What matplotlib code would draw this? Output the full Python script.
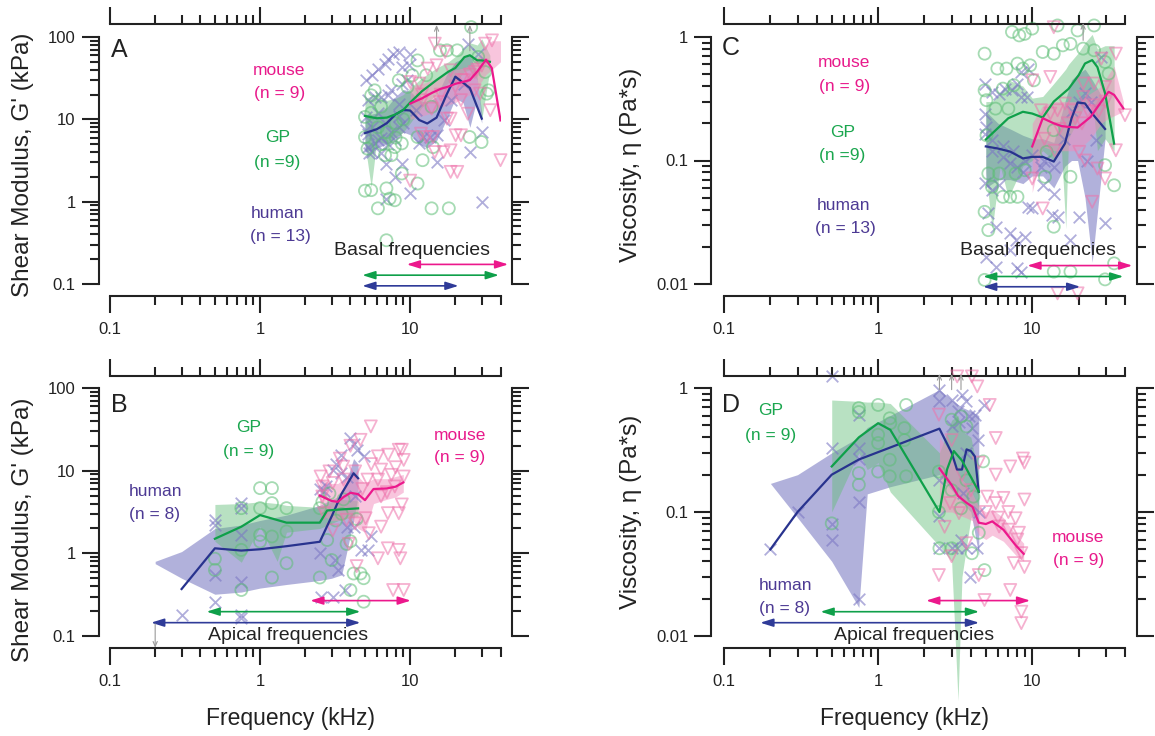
import numpy as np
import matplotlib
matplotlib.use("Agg")
from matplotlib import pyplot as plt
from matplotlib.ticker import FixedLocator, LogLocator, NullFormatter

plt.rcParams['font.family'] = ['Liberation Sans', 'DejaVu Sans']

# ---------------- panel A : shear modulus, basal turn (kHz, kPa)
a_hum_f = [5, 6, 7, 8, 9, 10, 11.5, 13, 15, 17.5, 20, 25, 30]
a_hum_v = [6.8, 7.6, 9, 11.5, 13, 12.8, 9.8, 8.9, 10.5, 20, 33, 24, 10.2]
a_hum_band_f = [5, 6, 7, 8, 9, 10, 11.5, 13, 15, 17.5, 20, 22.5, 25, 27.5, 30]
a_hum_lo = [4, 4.5, 5, 6, 7, 6.5, 5, 4.5, 5.5, 10, 18, 16, 8, 16, 9]
a_hum_hi = [11, 12, 14, 19, 23, 22, 17, 16, 19, 35, 50, 55, 60, 40, 12]
a_gp_f = [5, 6, 7, 8, 9, 10, 12, 15, 18, 20, 23, 25, 28, 30, 34]
a_gp_v = [11, 10.3, 10.5, 11.5, 13, 16, 22, 30, 38, 42, 57, 60, 52, 52, 50]
a_gp_band_f = [5, 5.5, 6, 7, 8, 9, 10, 12, 15, 18, 20, 23, 25, 28, 30, 34]
a_gp_lo = [5, 1.5, 5.5, 5, 6, 7, 9, 14, 20, 28, 28, 38, 40, 30, 10, 40]
a_gp_hi = [18, 19, 20, 17, 18, 20, 24, 32, 42, 50, 58, 75, 85, 80, 95, 60]
a_mou_f = [10, 12, 14, 16, 18, 20, 22.5, 25, 28, 32, 35, 40]
a_mou_v = [15.5, 18, 21, 23.5, 25, 27, 28.5, 30, 38, 53, 42, 9.7]
a_mou_lo = [10, 11, 12, 14, 15, 16, 18, 20, 24, 35, 40, 50]
a_mou_hi = [25, 27, 30, 33, 36, 40, 42, 45, 55, 80, 90, 90]
a_hum_pts = [(5.05, 29.8), (5.6, 34.3), (6.1, 41.3), (6.8, 47.5), (7.1, 54.6), (7.7, 62.8),
             (8.4, 65.8), (8.8, 43.2), (10, 62.8), (9.8, 45.3), (5.2, 17.1), (5.8, 18.7),
             (6.4, 18.7), (7.1, 19.6), (7.5, 22.5), (5.05, 10.7), (5.2, 6.7), (5.2, 4.6),
             (5.3, 3.85), (5.8, 5.1), (6.1, 5.6), (6.4, 3.85), (6.9, 2.9), (7.9, 5.6),
             (8.4, 8.1), (8.8, 2.9), (7.9, 2.0), (6.9, 1.09), (10, 1.26), (8.8, 27.2),
             (9.6, 29.8), (10.9, 12.9), (12.1, 6.1), (13.5, 6.1), (15, 6.4), (15, 3.05),
             (16.7, 9.75), (18.6, 17.1), (23, 27.2), (24.9, 4.0), (29.9, 7.04), (29.9, 1.0),
             (24.2, 83), (28.4, 62.8), (11.5, 5.1), (8.4, 15.5), (5.05, 7.5), (5.6, 8),
             (6.1, 12), (6.8, 9), (7.5, 7), (8.4, 11), (9, 9), (5.6, 4), (6.4, 6), (7.1, 5)]
a_gp_pts = [(5.5, 19.6), (5.8, 22.5), (5, 10.7), (5, 6.1), (5.2, 4.4), (5.5, 1.38), (5, 1.36),
            (6.1, 0.83), (6.95, 1.45), (7.3, 1.09), (7.9, 1.04), (8.8, 2.2), (11.2, 1.66),
            (13.9, 0.83), (18.1, 0.83), (6.95, 0.34), (6.8, 3.67), (7.5, 3.67), (7.9, 4.6),
            (8.8, 5.1), (11.2, 6.1), (12.1, 3.19), (14.2, 4.6), (17.6, 68.9), (15.8, 68.9),
            (20.6, 68.9), (25.5, 132), (28.4, 57.2), (31.6, 37.6), (32.4, 20.5), (33.3, 22.5),
            (29.9, 5.3), (24.9, 6.1), (13.9, 14.2), (11.2, 52), (10.35, 34.3), (12.8, 34.3),
            (6.4, 14.2), (8.4, 29.8), (9.6, 24.7), (6.1, 8), (7, 7), (8, 9), (9, 10),
            (5.5, 12), (6.5, 5), (8, 6)]
a_mou_pts = [(14.6, 83), (17.1, 65.8), (13.1, 41.3), (15, 45.3), (18.6, 39.4), (10, 28.4),
             (11.5, 27.2), (12.1, 17.1), (15.8, 16.2), (17.6, 10.2), (18.6, 10.2), (11.8, 6.7),
             (12.8, 6.1), (14.2, 6.1), (10, 1.8), (16.7, 4.0), (18.6, 4.2), (20.1, 6.4),
             (21.8, 6.4), (18.6, 2.3), (20.6, 2.3), (14.6, 4.0), (23, 29.8), (26.9, 22.5),
             (29.2, 20.5), (34.2, 12.9), (40, 3.19), (35.1, 91), (31.6, 83), (26.9, 37.6),
             (21.8, 17.1), (24.2, 11.7), (13.9, 13.5), (20, 25), (22, 30), (25, 35), (28, 40),
             (30, 45), (16, 20), (12, 20)]
a_ranges = [(4.8, 21, 0.095), (4.8, 39, 0.128), (9.5, 45, 0.173)]   # human, GP, mouse
a_offscale = [(15, 80, 140), (25, 68, 140)]

# ---------------- panel C : viscosity, basal turn (kHz, Pa*s)
c_hum_f = [5, 6, 7.2, 8.7, 10, 11.7, 13.8, 16.3, 18, 19.7, 22, 24.5, 29.7]
c_hum_v = [0.13, 0.125, 0.118, 0.104, 0.107, 0.107, 0.098, 0.137, 0.22, 0.295, 0.29, 0.24, 0.18]
c_hum_lo = [0.06, 0.07, 0.07, 0.065, 0.075, 0.075, 0.06, 0.09, 0.1, 0.1, 0.05, 0.015, 0.15]
c_hum_hi = [0.25, 0.2, 0.18, 0.16, 0.15, 0.15, 0.14, 0.3, 0.45, 0.5, 0.55, 0.45, 0.3]
c_gp_f = [5, 7, 8.7, 10, 11.7, 13.8, 17.2, 20, 22, 24.5, 26.5, 29.7, 34]
c_gp_v = [0.148, 0.22, 0.248, 0.24, 0.223, 0.3, 0.38, 0.49, 0.61, 0.65, 0.57, 0.35, 0.137]
c_gp_band_f = [5, 5.5, 6.2, 7, 8.7, 10, 11.7, 13.8, 15.5, 16.5, 17.2, 20, 22, 24.5, 26.5, 29.7, 34]
c_gp_lo = [0.08, 0.028, 0.09, 0.05, 0.09, 0.1, 0.12, 0.1, 0.12, 0.028, 0.15, 0.22, 0.28, 0.32,
           0.12, 0.15, 0.12]
c_gp_hi = [0.3, 0.3, 0.35, 0.45, 0.4, 0.32, 0.33, 0.42, 0.5, 0.55, 0.6, 0.75, 0.9, 1.05, 0.8,
           0.85, 0.85]
c_mou_f = [10, 11.7, 13.8, 15.5, 17.2, 19.7, 23.9, 28.1, 31.3, 34, 39]
c_mou_v = [0.13, 0.22, 0.2, 0.19, 0.187, 0.185, 0.225, 0.3, 0.36, 0.34, 0.265]
c_mou_lo = [0.055, 0.13, 0.12, 0.12, 0.12, 0.12, 0.15, 0.2, 0.22, 0.23, 0.25]
c_mou_hi = [0.2, 0.28, 0.3, 0.3, 0.3, 0.3, 0.35, 0.4, 0.5, 0.58, 0.3]
c_hum_pts = [(4.91, 0.42), (5.48, 0.359), (6.1, 0.348), (6.63, 0.382), (7.39, 0.37), (8.02, 0.42),
             (8.47, 0.327), (9.19, 0.327), (8.47, 0.521), (9.45, 0.555), (4.91, 0.24),
             (5.05, 0.187), (4.91, 0.165), (5.48, 0.146), (6.45, 0.107), (7.19, 0.0946),
             (8.02, 0.0889), (8.7, 0.081), (4.91, 0.0652), (5.48, 0.0576), (6.1, 0.063),
             (5.19, 0.0373), (5.78, 0.0291), (7.19, 0.0257), (7.8, 0.0227), (8.94, 0.0242),
             (7.19, 0.0188), (8.02, 0.0134), (9.45, 0.0422), (10, 0.0409), (11.7, 0.063),
             (13.8, 0.054), (13.5, 0.0361), (14.6, 0.035), (17.7, 0.0227), (20.2, 0.035),
             (29.7, 0.031), (22.6, 0.1), (25.9, 0.146), (28.1, 0.69), (5.78, 0.0138),
             (5.05, 0.0166), (8.47, 0.0126), (13.8, 0.0889), (11.4, 0.0889), (5.5, 0.12),
             (6.5, 0.13), (7.5, 0.12), (9, 0.1), (10, 0.11), (12, 0.1), (16, 0.15), (18, 0.25),
             (20, 0.3), (22, 0.35), (24, 0.3)]
c_gp_pts = [(4.91, 0.733), (5.94, 0.555), (5.05, 0.308), (4.91, 0.37), (6.81, 0.555), (8.7, 0.555),
            (9.7, 0.59), (7.39, 1.1), (8.24, 1.03), (8.94, 1.06), (10, 1.17), (14.6, 1.24),
            (19.7, 1.13), (25.2, 1.24), (17.7, 0.88), (15.8, 0.856), (13.8, 0.733), (11.7, 0.756),
            (10.25, 0.446), (8.02, 0.609), (5.19, 0.0785), (6.1, 0.0785), (5.48, 0.0612),
            (6.45, 0.0508), (7.19, 0.0508), (8.02, 0.0508), (4.91, 0.0384), (5.19, 0.0273),
            (13.8, 0.0291), (12.1, 0.0738), (12.4, 0.1175), (13.8, 0.176), (17.7, 0.0738),
            (29.7, 0.0917), (34, 0.063), (13.8, 0.0126), (17.7, 0.0126), (29.7, 0.0109),
            (34, 0.0147), (4.91, 0.0108), (7.8, 0.0785), (8.94, 0.0835), (21.4, 0.805),
            (25.2, 0.78), (29.7, 0.628), (31.3, 0.505), (5.05, 0.16), (5.78, 0.263), (7.0, 0.263),
            (6.45, 0.382), (7.59, 0.407)]
c_mou_pts = [(13.8, 1.2), (10, 0.446), (13.1, 0.475), (11.4, 0.255), (13.1, 0.24), (14.6, 0.255),
             (16.3, 0.289), (18.2, 0.255), (21.4, 0.327), (21.4, 0.42), (25.2, 0.42), (29.7, 0.394),
             (34.9, 0.733), (28.1, 0.668), (40, 0.233), (34.9, 0.121), (29.7, 0.0715),
             (26.5, 0.0861), (24.5, 0.0463), (20.2, 0.1175), (22, 0.1), (11.7, 0.0409),
             (10, 0.0715), (14.6, 0.0084), (19.7, 0.0084), (15, 0.18), (17, 0.2), (19, 0.22),
             (21, 0.2), (23, 0.25), (25, 0.28), (27, 0.25), (30, 0.3), (12, 0.15), (14, 0.12)]
c_ranges = [(4.8, 20.5, 0.0095), (4.8, 39, 0.0115), (9.3, 44.6, 0.0141)]
c_offscale = [(21.4, 0.94, 1.3)]

# ---------------- panel B : shear modulus, apical turn
b_hum_f = [0.3, 0.5, 0.75, 1, 1.5, 2.5, 3, 3.5, 4.2, 4.5]
b_hum_v = [0.37, 1.15, 1.08, 1.12, 1.22, 1.38, 2.8, 5.3, 9.3, 8.1]
b_hum_band_f = [0.2, 0.3, 0.5, 0.75, 1, 1.5, 2.5, 3, 3.5, 4.2, 4.5]
b_hum_lo = [0.75, 0.5, 0.32, 0.34, 0.38, 0.42, 0.47, 0.5, 0.55, 2.5, 5]
b_hum_hi = [0.8, 1.05, 2.0, 2.2, 2.5, 2.9, 3.8, 4.5, 5, 14, 12]
b_gp_f = [0.5, 0.75, 1, 1.5, 2.5, 2.8, 3.5, 4.5]
b_gp_v = [1.5, 2.1, 2.9, 2.35, 2.35, 3.3, 3.4, 3.5]
b_gp_band_f = [0.5, 0.75, 1, 1.3, 1.5, 2.5, 3, 3.5, 4.5]
b_gp_lo = [1.4, 0.78, 2.1, 0.8, 1.8, 2.0, 2.3, 2.6, 2.8]
b_gp_hi = [3.9, 4.0, 4.2, 4.0, 3.8, 3.6, 4.2, 4.5, 4.3]
b_mou_f = [2.5, 3, 3.3, 3.6, 4, 4.5, 5, 5.7, 7, 8, 9]
b_mou_v = [5.0, 4.3, 4.2, 4.8, 5.4, 5.2, 4.4, 6.0, 6.1, 6.4, 7.2]
b_mou_lo = [3, 2.5, 2.5, 2.5, 2.8, 2, 1.8, 4, 4.5, 4.8, 5.5]
b_mou_hi = [8, 7, 7, 8, 9, 8.5, 7, 8, 8, 8.5, 9]
b_hum_pts = [(0.5, 2.54), (0.5, 2.21), (0.5, 0.55), (0.5, 0.26), (0.75, 4.05), (0.75, 3.5),
             (0.75, 1.67), (0.75, 0.455), (0.75, 0.18), (0.75, 0.164), (0.3, 0.18), (2.5, 1.0),
             (3.05, 10.3), (3.48, 15.6), (4, 24.8), (4.4, 17.9), (4.9, 14.9), (2.67, 5.6),
             (3.77, 2.1), (3.14, 0.83), (3.3, 0.63), (4.67, 1.1), (5.2, 1.1), (5.5, 1.6),
             (3.67, 0.36), (3.05, 0.3), (2.53, 0.3), (4.2, 2.1), (3.48, 9.34), (3.77, 8.5),
             (2.74, 6.44), (4.3, 4.87), (4.2, 21), (3.2, 12), (2.5, 6)]
b_gp_pts = [(1, 6.15), (1.2, 6.15), (0.75, 3.52), (1, 3.52), (1.2, 4.05), (1.5, 3.52), (1.5, 1.84),
            (1.2, 1.6), (1, 1.67), (1, 1.39), (0.75, 1.1), (0.5, 0.86), (0.5, 0.63), (0.75, 0.36),
            (1.2, 0.51), (1.5, 0.76), (2.5, 0.51), (2.5, 3.52), (2.8, 1.45), (3, 0.83),
            (3.77, 1.3), (4, 0.36), (4.2, 0.57), (4.67, 0.57), (4.9, 0.5), (4.9, 0.26), (4, 1.4),
            (2.9, 5.3), (3.5, 3), (3.2, 2.5), (4.4, 2.6), (3.6, 4.5), (2.6, 4.2)]
b_mou_pts = [(5.47, 34.3), (2.53, 8.5), (2.9, 9.8), (3.58, 11.2), (4.3, 9.8), (4.67, 23.6),
             (6.1, 14.9), (7.14, 15.6), (8.4, 17.9), (8.8, 17.9), (9.06, 13.5), (9.06, 8.5),
             (7.9, 6.44), (6.4, 4.9), (6.1, 7.8), (8.8, 3.9), (8.4, 3.06), (7.1, 3.06), (6.4, 2.1),
             (5.05, 2.66), (4.3, 2.3), (6.1, 0.87), (7.1, 1.15), (8.4, 1.1), (8.6, 0.87),
             (7.7, 0.36), (9.06, 0.36), (4.4, 0.7), (3.9, 1.3), (3.05, 1.9), (2.6, 4.87),
             (2.67, 3.06), (3.77, 2.54), (5.3, 1.75), (7.5, 8.9), (6.4, 10.3), (5.2, 7.8),
             (3.6, 7.8), (3.05, 7.1), (2.6, 6.44), (4, 20), (3.4, 14), (5.5, 12), (4.8, 6),
             (7, 5.5), (8, 11)]
b_ranges = [(0.188, 4.66, 0.145), (0.44, 4.66, 0.197), (2.16, 10.1, 0.268)]
b_offscale = [(0.2, 0.14, 0.072)]

# ---------------- panel D : viscosity, apical turn
d_hum_f = [0.2, 0.3, 0.5, 0.75, 2.5, 3, 3.25, 3.5, 3.75, 4, 4.25, 4.5]
d_hum_v = [0.05, 0.1, 0.2, 0.265, 0.47, 0.3, 0.22, 0.22, 0.32, 0.31, 0.28, 0.145]
d_hum_band_f = [0.2, 0.3, 0.5, 0.75, 0.85, 1.2, 2.5, 3, 3.5, 4, 4.5]
d_hum_lo = [0.17, 0.09, 0.04, 0.017, 0.14, 0.16, 0.2, 0.15, 0.12, 0.1, 0.045]
d_hum_hi = [0.17, 0.2, 0.3, 0.4, 0.48, 0.6, 0.97, 0.8, 0.7, 0.65, 0.6]
d_gp_f = [0.5, 0.75, 1, 1.2, 2.5, 2.8, 3.1, 3.5, 4.5]
d_gp_v = [0.233, 0.4, 0.52, 0.46, 0.1, 0.22, 0.31, 0.26, 0.146]
d_gp_band_f = [0.5, 0.75, 0.85, 1, 1.2, 2.5, 3, 3.3, 3.5, 4, 4.5]
d_gp_lo = [0.1, 0.3, 0.22, 0.25, 0.145, 0.053, 0.04, 0.003, 0.03, 0.09, 0.1]
d_gp_hi = [0.8, 0.78, 0.77, 0.77, 0.75, 0.3, 0.55, 0.6, 0.45, 0.4, 0.2]
d_mou_f = [2.5, 3, 3.3, 3.7, 4.1, 4.5, 5, 5.5, 6.5, 7.8, 8.8]
d_mou_v = [0.225, 0.165, 0.135, 0.12, 0.11, 0.082, 0.08, 0.084, 0.072, 0.054, 0.046]
d_mou_lo = [0.1, 0.1, 0.095, 0.09, 0.085, 0.065, 0.06, 0.065, 0.058, 0.045, 0.04]
d_mou_hi = [0.4, 0.3, 0.2, 0.17, 0.14, 0.11, 0.1, 0.105, 0.09, 0.066, 0.056]
d_hum_pts = [(0.2, 0.05), (0.3, 0.1), (0.5, 1.24), (0.5, 0.328), (0.5, 0.08), (0.5, 0.0595),
             (0.75, 0.61), (0.75, 0.328), (0.75, 0.27), (0.75, 0.12), (0.75, 0.0198), (2.5, 0.97),
             (2.5, 0.78), (3, 0.8), (3.5, 0.88), (3.3, 0.65), (3.74, 0.78), (3.9, 0.59),
             (4.28, 0.61), (4.9, 0.73), (4.45, 0.38), (3.74, 0.3), (2.5, 0.18), (2.5, 0.092),
             (2.5, 0.0512), (3, 0.0512), (3.45, 0.06), (3.26, 0.0512), (3.74, 0.0512),
             (4.4, 0.0512), (3.95, 0.03), (4.5, 0.1), (3.55, 0.142), (3, 0.49), (3.35, 0.53),
             (4.06, 0.48)]
d_gp_pts = [(0.75, 0.69), (1, 0.73), (1.52, 0.73), (1.19, 0.57), (0.75, 0.206), (0.75, 0.166),
            (0.5, 0.081), (1, 0.36), (1, 0.212), (1.19, 0.264), (1.19, 0.194), (1.48, 0.475),
            (1.48, 0.38), (1.52, 0.194), (2.48, 0.212), (2.48, 0.1), (2.5, 0.051), (3, 0.051),
            (3, 0.555), (3.45, 0.59), (3, 0.15), (3.45, 0.107), (3.74, 0.18), (4.06, 0.0465),
            (4.9, 0.034), (4.8, 0.256), (4.5, 0.068), (4.15, 0.133), (3.74, 0.49), (0.75, 0.64),
            (1.2, 0.52), (1, 0.42)]
d_mou_pts = [(3.26, 1.24), (4.06, 1.24), (4.4, 1.03), (5.3, 0.73), (2.48, 0.61), (3, 0.38),
             (5.8, 0.395), (7.2, 0.233), (8.7, 0.27), (8.9, 0.25), (5.8, 0.2), (8.9, 0.126),
             (7.8, 0.089), (5.1, 0.133), (5.8, 0.118), (6.1, 0.0764), (7.0, 0.072), (8.2, 0.068),
             (8.5, 0.0466), (7.6, 0.0387), (8.9, 0.036), (4.5, 0.031), (2.48, 0.031), (3, 0.044),
             (7.2, 0.0235), (8.5, 0.0157), (8.5, 0.0127), (4.9, 0.0195), (2.7, 0.076),
             (2.93, 0.118), (3.35, 0.098), (3.74, 0.056), (4, 0.15), (5, 0.1), (6, 0.09),
             (7, 0.1), (8, 0.06), (3.5, 0.2), (4.5, 0.25), (6.5, 0.13)]
d_ranges = [(0.172, 4.52, 0.0128), (0.423, 4.52, 0.0157), (2.05, 9.7, 0.0193)]
d_offscale = [(2.5, 0.97, 1.3), (3.0, 0.97, 1.3), (3.45, 0.97, 1.3)]

# colours: human, GP, mouse
LINE = ['#28338E', '#0FA04A', '#EC188C']
TEXT = ['#4D3A94', '#1AA64E', '#E8198B']
BAND = ['#7E7EC4', '#62BE78', '#F28DBC']
BAND_ALPHA = [0.6, 0.45, 0.5]
MARK = ['#7C78C4', '#5DBE76', '#EE72AA']
MARKERS = ['x', 'o', 'v']

W, H = 1155, 736


def rect(x0, y0, x1, y1):
    return [x0 / W, 1 - y1 / H, (x1 - x0) / W, (y1 - y0) / H]


def style_axes(ax, ylim, yticks, yticklabels, offsets):
    ax.set_xscale('log')
    ax.set_yscale('log')
    ax.set_xlim(0.1, 40)
    ax.set_ylim(*ylim)
    for side, off in zip(('left', 'right', 'bottom', 'top'), offsets):
        ax.spines[side].set_position(('outward', off))
        ax.spines[side].set_linewidth(1.5)
        ax.spines[side].set_color('#222222')
    ax.patch.set_visible(False)
    ax.xaxis.set_major_locator(FixedLocator([0.1, 1, 10]))
    ax.xaxis.set_minor_locator(LogLocator(base=10, subs=np.arange(2, 10), numticks=20))
    ax.yaxis.set_major_locator(FixedLocator(yticks))
    ax.yaxis.set_minor_locator(LogLocator(base=10, subs=np.arange(2, 10), numticks=20))
    ax.xaxis.set_minor_formatter(NullFormatter())
    ax.yaxis.set_minor_formatter(NullFormatter())
    ax.set_xticklabels(['0.1', '1', '10'])
    ax.set_yticklabels(yticklabels)
    ax.tick_params(which='both', direction='out', top=True, right=True,
                   width=1.5, color='#222222', labelsize=12, labelcolor='#222222')
    ax.tick_params(which='major', length=12.5)
    ax.tick_params(which='minor', length=6.5)
    ax.tick_params(axis='x', pad=6)
    ax.tick_params(axis='y', pad=4)


def draw(ax, bands, lines, points, ranges, offscale):
    for i, (bf, lo, hi) in enumerate(bands):
        ax.fill_between(bf, lo, hi, color=BAND[i], alpha=BAND_ALPHA[i], lw=0,
                        zorder=1, clip_on=False)
    for i, pts in enumerate(points):
        f, v = zip(*pts)
        if MARKERS[i] == 'x':
            ax.scatter(f, v, marker='x', s=70, color=MARK[i], alpha=0.6, lw=1.3,
                       zorder=2, clip_on=False)
        else:
            ax.scatter(f, v, marker=MARKERS[i], s=75, facecolors='none', edgecolors=MARK[i],
                       alpha=0.55, lw=1.3, zorder=2, clip_on=False)
    for i, (f, v) in enumerate(lines):
        ax.plot(f, v, color=LINE[i], lw=1.6, zorder=3)
    for i, (f0, f1, y) in enumerate(ranges):
        ax.annotate('', xy=(f1, y), xytext=(f0, y), annotation_clip=False,
                    arrowprops=dict(arrowstyle='<|-|>,head_length=0.7,head_width=0.22',
                                    color=LINE[i] if i != 0 else '#2F3B98', lw=1.2,
                                    shrinkA=0, shrinkB=0, mutation_scale=11), zorder=4)
    for f, y0, y1 in offscale:
        ax.annotate('', xy=(f, y1), xytext=(f, y0), annotation_clip=False,
                    arrowprops=dict(arrowstyle='->,head_length=0.35,head_width=0.15',
                                    color='#9A9A9A', lw=0.8, shrinkA=0, shrinkB=0), zorder=4)


def species_text(ax, pos, lines_txt, idx):
    for (x, y), t in zip(pos, lines_txt):
        ax.text(x, y, t, transform=ax.transAxes, ha='center', va='center',
                fontsize=12.5, color=TEXT[idx])


fig = plt.figure(figsize=(W / 100, H / 100), dpi=100)
axA = fig.add_axes(rect(110, 37, 500.5, 284))
axC = fig.add_axes(rect(724, 37, 1125, 284))
axB = fig.add_axes(rect(110, 388, 500.5, 636))
axD = fig.add_axes(rect(724, 388, 1125, 636))

g_ticks, g_lab = [0.1, 1, 10, 100], ['0.1', '1', '10', '100']
e_ticks, e_lab = [0.01, 0.1, 1], ['0.01', '0.1', '1']
style_axes(axA, (0.1, 100), g_ticks, g_lab, (8.2, 8.3, 8.6, 9.4))
style_axes(axB, (0.1, 100), g_ticks, g_lab, (8.2, 8.3, 8.6, 8.6))
style_axes(axC, (0.01, 1), e_ticks, e_lab, (9.2, 8.4, 8.6, 9.4))
style_axes(axD, (0.01, 1), e_ticks, e_lab, (9.2, 8.4, 8.6, 8.6))

draw(axA,
     [(a_hum_band_f, a_hum_lo, a_hum_hi), (a_gp_band_f, a_gp_lo, a_gp_hi),
      (a_mou_f, a_mou_lo, a_mou_hi)],
     [(a_hum_f, a_hum_v), (a_gp_f, a_gp_v), (a_mou_f, a_mou_v)],
     [a_hum_pts, a_gp_pts, a_mou_pts], a_ranges, a_offscale)
draw(axC,
     [(c_hum_f, c_hum_lo, c_hum_hi), (c_gp_band_f, c_gp_lo, c_gp_hi),
      (c_mou_f, c_mou_lo, c_mou_hi)],
     [(c_hum_f, c_hum_v), (c_gp_f, c_gp_v), (c_mou_f, c_mou_v)],
     [c_hum_pts, c_gp_pts, c_mou_pts], c_ranges, c_offscale)
draw(axB,
     [(b_hum_band_f, b_hum_lo, b_hum_hi), (b_gp_band_f, b_gp_lo, b_gp_hi),
      (b_mou_f, b_mou_lo, b_mou_hi)],
     [(b_hum_f, b_hum_v), (b_gp_f, b_gp_v), (b_mou_f, b_mou_v)],
     [b_hum_pts, b_gp_pts, b_mou_pts], b_ranges, b_offscale)
draw(axD,
     [(d_hum_band_f, d_hum_lo, d_hum_hi), (d_gp_band_f, d_gp_lo, d_gp_hi),
      (d_mou_f, d_mou_lo, d_mou_hi)],
     [(d_hum_f, d_hum_v), (d_gp_f, d_gp_v), (d_mou_f, d_mou_v)],
     [d_hum_pts, d_gp_pts, d_mou_pts], d_ranges, d_offscale)

# panel letters
for ax, letter, x, y in ((axA, 'A', 0.003, 0.947), (axC, 'C', -0.005, 0.955),
                         (axB, 'B', 0.003, 0.931), (axD, 'D', -0.005, 0.931)):
    ax.text(x, y, letter, transform=ax.transAxes, ha='left', va='center',
            fontsize=18, color='#222222')

species_text(axA, [(0.434, 0.866), (0.434, 0.773)], ['mouse', '(n = 9)'], 2)
species_text(axA, [(0.428, 0.595), (0.428, 0.49)], ['GP', '(n =9)'], 1)
species_text(axA, [(0.428, 0.287), (0.436, 0.194)], ['human', '(n = 13)'], 0)
species_text(axC, [(0.30, 0.895), (0.30, 0.798)], ['mouse', '(n = 9)'], 2)
species_text(axC, [(0.295, 0.615), (0.295, 0.522)], ['GP', '(n =9)'], 1)
species_text(axC, [(0.298, 0.316), (0.303, 0.223)], ['human', '(n = 13)'], 0)
species_text(axB, [(0.356, 0.839), (0.356, 0.742)], ['GP', '(n = 9)'], 1)
species_text(axB, [(0.117, 0.581), (0.114, 0.488)], ['human', '(n = 8)'], 0)
species_text(axB, [(0.896, 0.81), (0.894, 0.718)], ['mouse', '(n = 9)'], 2)
species_text(axD, [(0.117, 0.911), (0.117, 0.81)], ['GP', '(n = 9)'], 1)
species_text(axD, [(0.153, 0.202), (0.150, 0.109)], ['human', '(n = 8)'], 0)
species_text(axD, [(0.883, 0.399), (0.883, 0.306)], ['mouse', '(n = 9)'], 2)

for ax, txt, x, y in ((axA, 'Basal frequencies', 0.774, 0.134),
                      (axC, 'Basal frequencies', 0.784, 0.134),
                      (axB, 'Apical frequencies', 0.455, 0.004),
                      (axD, 'Apical frequencies', 0.473, 0.004)):
    ax.text(x, y, txt, transform=ax.transAxes, ha='center', va='center',
            fontsize=14, color='#222222', zorder=5)

# axis titles
g_label = "Shear Modulus, G' (kPa)"
e_label = "Viscosity, \u03b7 (Pa*s)"
for x, y, t in ((23, 165, g_label), (23, 530, g_label), (631, 165, e_label), (631, 512, e_label)):
    fig.text(x / W, 1 - y / H, t, rotation=90, ha='center', va='center',
             fontsize=17.5, color='#222222')
for x in (291, 905):
    fig.text(x / W, 1 - 718 / H, 'Frequency (kHz)', ha='center', va='center',
             fontsize=16.5, color='#222222')

fig.savefig('out.png', dpi=100)
